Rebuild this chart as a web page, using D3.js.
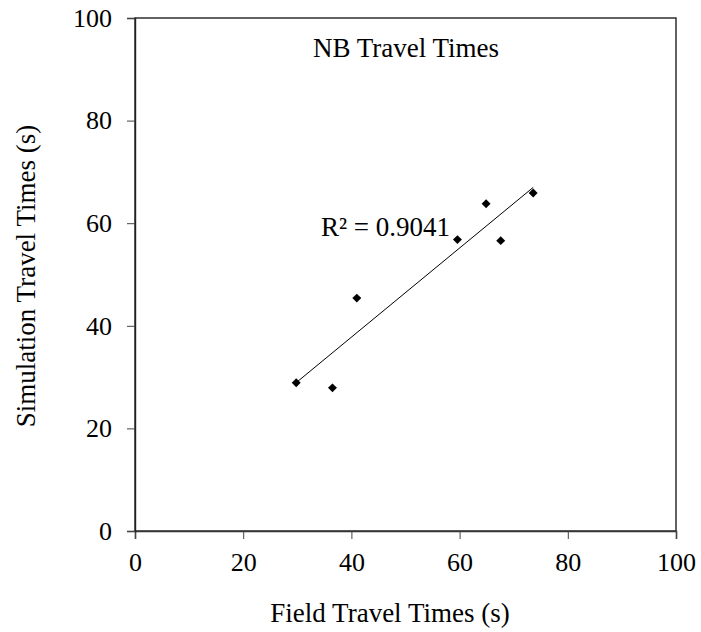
<!DOCTYPE html>
<html>
<head>
<meta charset="utf-8">
<script src="https://cdn.jsdelivr.net/npm/d3@7"></script>
<style>
  html, body { margin: 0; padding: 0; background: #fff; }
  svg { display: block; }
  text { font-family: "Liberation Serif", "Times New Roman", serif; fill: #000; }
</style>
</head>
<body>
<svg id="chart" width="701" height="632"></svg>
<script>
// Field vs simulated northbound travel times (seconds)
const fieldTimes = [29.8, 36.5, 41.0, 59.6, 64.9, 67.6, 73.6];
const simTimes   = [28.9, 27.9, 45.4, 56.8, 63.8, 56.6, 65.9];
const xTicks = [0, 20, 40, 60, 80, 100];
const yTicks = [0, 20, 40, 60, 80, 100];
const chartTitle = "NB Travel Times";
const xTitle = "Field Travel Times (s)";
const yTitle = "Simulation Travel Times (s)";
const r2Label = "R\u00B2 = 0.9041";

const svg = d3.select("#chart");
const m = { left: 135, right: 676, top: 18, bottom: 531 };
const serif = "'Liberation Serif', 'Times New Roman', serif";

const x = d3.scaleLinear().domain([0, 100]).range([m.left, m.right]);
const y = d3.scaleLinear().domain([0, 100]).range([m.bottom, m.top]);

// plot frame
svg.append("rect")
  .attr("x", m.left).attr("y", m.top)
  .attr("width", m.right - m.left).attr("height", m.bottom - m.top)
  .attr("fill", "none").attr("stroke", "#222").attr("stroke-width", 1.4);

// x axis
const xAxis = svg.append("g")
  .attr("transform", `translate(0,${m.bottom})`)
  .call(d3.axisBottom(x).tickValues(xTicks).tickSize(8).tickPadding(12));
xAxis.select(".domain").attr("stroke", "#333").attr("stroke-width", 1.6);
xAxis.selectAll(".tick line").attr("stroke", "#444");
xAxis.selectAll("text").attr("font-size", 26).attr("dy", "0.75em")
  .style("font-family", serif).attr("fill", "#000");

// y axis
const yAxis = svg.append("g")
  .attr("transform", `translate(${m.left},0)`)
  .call(d3.axisLeft(y).tickValues(yTicks).tickSize(8).tickPadding(15));
yAxis.select(".domain").attr("stroke", "#222").attr("stroke-width", 1.4);
yAxis.selectAll(".tick line").attr("stroke", "#444");
yAxis.selectAll("text").attr("font-size", 26)
  .style("font-family", serif).attr("fill", "#000");

// linear least-squares trendline
const n = fieldTimes.length;
const mx = d3.mean(fieldTimes), my = d3.mean(simTimes);
let sxy = 0, sxx = 0;
for (let i = 0; i < n; i++) {
  sxy += (fieldTimes[i] - mx) * (simTimes[i] - my);
  sxx += (fieldTimes[i] - mx) ** 2;
}
const slope = sxy / sxx, intercept = my - slope * mx;
const [x0, x1] = d3.extent(fieldTimes);
svg.append("line")
  .attr("x1", x(x0)).attr("y1", y(intercept + slope * x0))
  .attr("x2", x(x1)).attr("y2", y(intercept + slope * x1))
  .attr("stroke", "#000").attr("stroke-width", 1);

// diamond markers
const diamond = d3.symbol().type(d3.symbolSquare).size(40);
svg.append("g").selectAll("path")
  .data(fieldTimes.map((f, i) => [f, simTimes[i]]))
  .join("path")
  .attr("d", diamond)
  .attr("transform", d => `translate(${x(d[0])},${y(d[1])}) rotate(45)`)
  .attr("fill", "#000");

// title and annotation
svg.append("text").attr("x", 406).attr("y", 57)
  .attr("text-anchor", "middle").attr("font-size", 27).text(chartTitle);
svg.append("text").attr("x", 321).attr("y", 236)
  .attr("font-size", 27).text(r2Label);

// axis titles
svg.append("text").attr("x", 390).attr("y", 622)
  .attr("text-anchor", "middle").attr("font-size", 27).text(xTitle);
svg.append("text")
  .attr("transform", `translate(35,276) rotate(-90)`)
  .attr("text-anchor", "middle").attr("font-size", 27).text(yTitle);
</script>
</body>
</html>
